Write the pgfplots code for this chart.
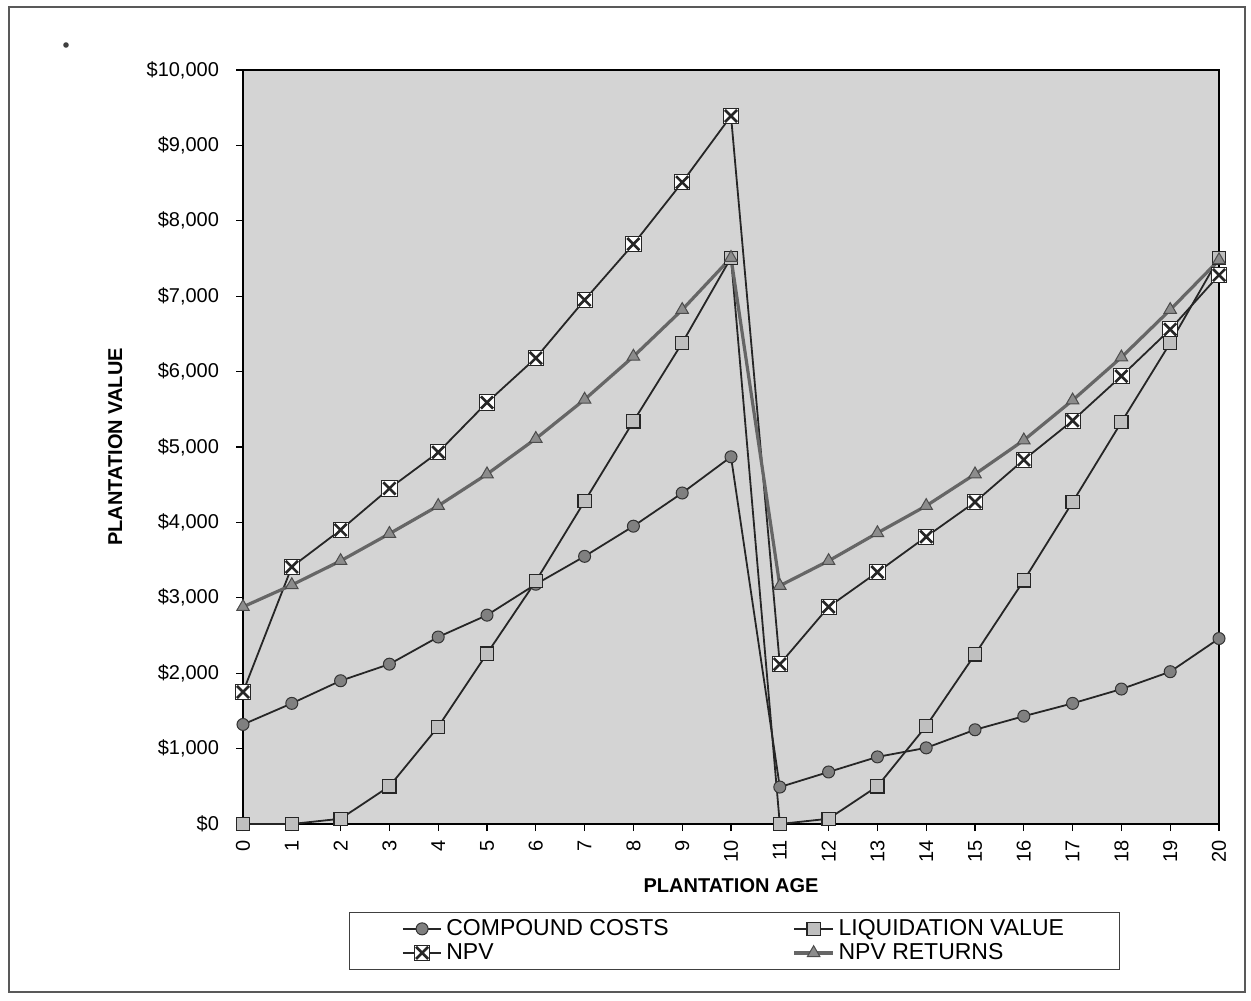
\documentclass[border=0pt]{standalone}
\usepackage{fontspec}
\setmainfont{Liberation Sans}
\usepackage{pgfplots}
\pgfplotsset{compat=1.18}

% white box with a heavy cross, used for the NPV series
\pgfdeclareplotmark{boxx}{%
  \pgfsetfillcolor{white}%
  \pgfsetlinewidth{0.5pt}%
  \pgfpathrectangle{\pgfqpoint{-\pgfplotmarksize}{-\pgfplotmarksize}}{\pgfqpoint{2\pgfplotmarksize}{2\pgfplotmarksize}}%
  \pgfusepathqfillstroke
  \pgfsetlinewidth{1.3pt}%
  \pgfpathmoveto{\pgfqpoint{-0.8\pgfplotmarksize}{-0.8\pgfplotmarksize}}%
  \pgfpathlineto{\pgfqpoint{0.8\pgfplotmarksize}{0.8\pgfplotmarksize}}%
  \pgfpathmoveto{\pgfqpoint{-0.8\pgfplotmarksize}{0.8\pgfplotmarksize}}%
  \pgfpathlineto{\pgfqpoint{0.8\pgfplotmarksize}{-0.8\pgfplotmarksize}}%
  \pgfusepathqstroke
}

\begin{document}
\begin{tikzpicture}
  % page area and outer frame
  \path[use as bounding box] (0pt,0pt) rectangle (625.5pt,-500pt);
  \draw[black!65, line width=0.6pt] (4.5pt,-3.5pt) rectangle (622.5pt,-496pt);
  \fill[black!75] (33pt,-22.5pt) circle (1.4pt);

  \begin{axis}[
    at={(121.5pt,-412pt)}, anchor=origin,
    scale only axis,
    width=488pt, height=377pt,
    xmin=0, xmax=20, ymin=0, ymax=10000,
    axis background/.style={fill=black!17},
    axis line style={black, line width=0.8pt},
    xtick={0,1,...,20},
    ytick={0,1000,...,10000},
    scaled y ticks=false,
    yticklabels={{\$0},{\$1,000},{\$2,000},{\$3,000},{\$4,000},{\$5,000},{\$6,000},{\$7,000},{\$8,000},{\$9,000},{\$10,000}},
    tick pos=left,
    tick align=outside,
    major tick length=3.5pt,
    tick style={black, line width=0.6pt},
    /pgf/number format/assume math mode=true,
    ticklabel style={font=\fontsize{10}{12}\selectfont},
    xticklabel style={rotate=90, anchor=east, xshift=-1pt},
    yticklabel style={xshift=-5pt},
    xlabel={PLANTATION AGE},
    ylabel={PLANTATION VALUE},
    label style={font=\fontsize{10}{12}\selectfont\bfseries},
    xlabel style={at={(axis description cs:0.5,-0.082)}, anchor=center},
    ylabel style={at={(axis description cs:-0.131,0.5)}, anchor=center},
    legend columns=2,
    legend style={
      at={(rel axis cs:0.504,-0.155)}, anchor=center,
      draw=black!75, line width=0.5pt,
      font=\fontsize{11.5}{11.5}\selectfont,
      inner xsep=26pt, inner ysep=1.5pt,
      row sep=-1.5pt,
      /tikz/every even column/.append style={column sep=60pt},
    },
    legend cell align=left,
    legend image code/.code={%
      \draw[mark repeat=2,mark phase=2]
        plot coordinates {(0cm,0cm) (0.34cm,0cm) (0.68cm,0cm)};},
  ]
    \addplot[black!85, line width=0.9pt, mark=*, mark size=3pt,
      mark options={fill=black!50, draw=black!80, line width=0.5pt}]
      coordinates {
        (0,1320) (1,1600) (2,1900) (3,2120) (4,2480) (5,2770) (6,3180)
        (7,3550) (8,3950) (9,4390) (10,4870) (11,490) (12,690) (13,890)
        (14,1010) (15,1250) (16,1430) (17,1600) (18,1790) (19,2020) (20,2460)
      };
    \addlegendentry{COMPOUND COSTS}

    \addplot[black!85, line width=0.9pt, mark=square*, mark size=3.3pt,
      mark options={fill=black!25, draw=black!85, line width=0.6pt}]
      coordinates {
        (0,0) (1,0) (2,70) (3,500) (4,1290) (5,2260) (6,3220)
        (7,4280) (8,5340) (9,6380) (10,7510) (11,0) (12,70) (13,500)
        (14,1300) (15,2250) (16,3230) (17,4270) (18,5330) (19,6380) (20,7510)
      };
    \addlegendentry{LIQUIDATION VALUE}

    \addplot[black!85, line width=0.9pt, mark=boxx, mark size=3.8pt,
      mark options={draw=black!85}]
      coordinates {
        (0,1750) (1,3410) (2,3900) (3,4450) (4,4930) (5,5590) (6,6180)
        (7,6950) (8,7690) (9,8510) (10,9390) (11,2120) (12,2880) (13,3340)
        (14,3810) (15,4270) (16,4830) (17,5350) (18,5940) (19,6560) (20,7280)
      };
    \addlegendentry{NPV}

    \addplot[black!60, line width=1.6pt, mark=triangle*, mark size=3.6pt,
      mark options={fill=black!45, draw=black!70, line width=0.5pt}]
      coordinates {
        (0,2880) (1,3170) (2,3490) (3,3850) (4,4220) (5,4640) (6,5110)
        (7,5630) (8,6200) (9,6820) (10,7510) (11,3160) (12,3490) (13,3860)
        (14,4220) (15,4640) (16,5090) (17,5620) (18,6190) (19,6820) (20,7480)
      };
    \addlegendentry{NPV RETURNS}
  \end{axis}
\end{tikzpicture}
\end{document}
